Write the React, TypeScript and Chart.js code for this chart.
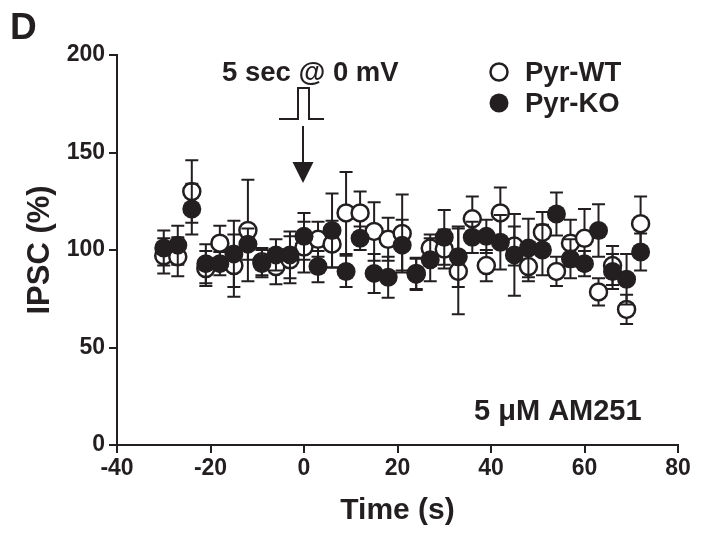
import React, { useEffect, useRef } from 'react';
import { Chart, registerables } from 'chart.js';

Chart.register(...registerables);

// ---- data ----
const timeSec = [-30, -27, -24, -21, -18, -15, -12, -9, -6, -3, 0, 3, 6, 9, 12, 15, 18, 21, 24, 27, 30, 33, 36, 39, 42, 45, 48, 51, 54, 57, 60, 63, 66, 69, 72];
const wtMean = [97, 96.5, 130, 90.5, 103.5, 92, 110, 94, 91.5, 95, 101.5, 105.5, 103, 119, 119, 109.5, 105.5, 108.5, 88, 101, 100.5, 89, 116, 92, 119, 102, 91.5, 109, 89, 103.5, 106, 78.5, 92, 69.5, 113.5];
const wtSem = [9, 10, 16, 9, 9, 16, 26, 7, 9, 12, 13, 9, 12, 21, 11, 15, 11, 20, 8, 7, 10, 22, 11.5, 8, 13, 10, 7.5, 10.5, 7.5, 12, 15, 7, 10, 7.5, 14];
const koMean = [101, 102.5, 121, 93, 93, 98, 103, 93, 97.5, 97.5, 107, 91.5, 110, 89, 106, 88, 86, 102.5, 87.5, 95, 106.5, 96.5, 106.5, 107, 104, 97.5, 101, 100, 118.5, 95.5, 93, 110, 89, 85, 99];
const koSem = [9, 10, 13, 10, 6, 17, 8, 7, 8, 12, 12, 8, 19, 8, 6, 10, 10.5, 13, 8, 11, 14, 15.5, 8, 8.5, 14, 21, 15, 13, 11, 10, 6.5, 13.5, 9, 13, 9.5];
const xTickValues = [-40, -20, 0, 20, 40, 60, 80];
const yTickValues = [0, 50, 100, 150, 200];
const seriesLabels = ['Pyr-WT', 'Pyr-KO'];

const INK = '#231f20';
const FONT = '"Liberation Sans", Arial, Helvetica, sans-serif';

const errorBarPlugin = {
  id: 'errorBars',
  beforeDatasetDraw(chart: any, args: any) {
    const ds = chart.data.datasets[args.index];
    const errs: number[] | undefined = ds.errors;
    if (!errs) return;
    const yScale = chart.scales.y;
    const ctx = chart.ctx;
    ctx.save();
    ctx.strokeStyle = INK;
    ctx.lineWidth = 2;
    args.meta.data.forEach((pt: any, i: number) => {
      const v = ds.data[i].y;
      const e = errs[i];
      const yt = yScale.getPixelForValue(v + e);
      const yb = yScale.getPixelForValue(v - e);
      const x = pt.x;
      ctx.beginPath();
      ctx.moveTo(x, yt);
      ctx.lineTo(x, yb);
      ctx.moveTo(x - 6.5, yt);
      ctx.lineTo(x + 6.5, yt);
      ctx.moveTo(x - 6.5, yb);
      ctx.lineTo(x + 6.5, yb);
      ctx.stroke();
    });
    ctx.restore();
  },
};

const annotationPlugin = {
  id: 'figureAnnotations',
  afterDraw(chart: any) {
    const ctx = chart.ctx;
    const xs = chart.scales.x;
    ctx.save();
    ctx.fillStyle = INK;
    ctx.strokeStyle = INK;
    ctx.textBaseline = 'middle';
    ctx.textAlign = 'left';

    // panel letter
    ctx.font = `bold 37px ${FONT}`;
    ctx.fillText('D', 10, 29);

    // stimulation label
    ctx.font = `bold 27.5px ${FONT}`;
    ctx.fillText('5 sec @ 0 mV', 222, 73);

    // pulse symbol
    const x0 = xs.getPixelForValue(0) - 1;
    ctx.lineWidth = 2;
    ctx.beginPath();
    ctx.moveTo(x0 - 24, 119);
    ctx.lineTo(x0 - 5, 119);
    ctx.lineTo(x0 - 5, 88);
    ctx.lineTo(x0 + 6, 88);
    ctx.lineTo(x0 + 6, 119);
    ctx.lineTo(x0 + 21, 119);
    ctx.stroke();

    // arrow
    ctx.beginPath();
    ctx.moveTo(x0, 126);
    ctx.lineTo(x0, 168);
    ctx.stroke();
    ctx.beginPath();
    ctx.moveTo(x0 - 10.5, 162);
    ctx.lineTo(x0 + 10.5, 162);
    ctx.lineTo(x0, 183);
    ctx.closePath();
    ctx.fill();

    // legend
    ctx.font = `bold 27.5px ${FONT}`;
    ctx.lineWidth = 2.5;
    ctx.beginPath();
    ctx.arc(499, 72, 8.5, 0, Math.PI * 2);
    ctx.fillStyle = '#ffffff';
    ctx.fill();
    ctx.stroke();
    ctx.fillStyle = INK;
    ctx.beginPath();
    ctx.arc(499, 103, 9.5, 0, Math.PI * 2);
    ctx.fill();
    ctx.fillText(seriesLabels[0], 525, 73);
    ctx.fillText(seriesLabels[1], 525, 104);

    // drug label
    ctx.font = `bold 29px ${FONT}`;
    ctx.fillText('5 \u03bcM AM251', 474, 412);
    ctx.restore();
  },
};

export default function App() {
  const ref = useRef<HTMLCanvasElement | null>(null);

  useEffect(() => {
    document.body.style.margin = '0';
    const canvas = ref.current;
    if (!canvas) return;
    const tickFont = { family: FONT, size: 23, weight: 'bold' as const };
    const chart = new Chart(canvas, {
      type: 'scatter',
      data: {
        datasets: [
          {
            label: seriesLabels[0],
            data: timeSec.map((t, i) => ({ x: t, y: wtMean[i] })),
            errors: wtSem,
            pointStyle: 'circle',
            pointRadius: 8.5,
            pointBorderWidth: 2.5,
            pointBackgroundColor: '#ffffff',
            pointBorderColor: INK,
            order: 2,
          } as any,
          {
            label: seriesLabels[1],
            data: timeSec.map((t, i) => ({ x: t, y: koMean[i] })),
            errors: koSem,
            pointStyle: 'circle',
            pointRadius: 9.5,
            pointBorderWidth: 0,
            pointBackgroundColor: INK,
            pointBorderColor: INK,
            order: 1,
          } as any,
        ],
      },
      options: {
        animation: false,
        responsive: false,
        maintainAspectRatio: false,
        events: [],
        layout: { padding: { top: 55, right: 26, left: 0, bottom: 0 } },
        plugins: {
          legend: { display: false },
          tooltip: { enabled: false },
        },
        scales: {
          x: {
            type: 'linear',
            min: -40,
            max: 80,
            afterBuildTicks: (s: any) => {
              s.ticks = xTickValues.map((v) => ({ value: v }));
            },
            afterFit: (s: any) => {
              s.height = 95;
            },
            ticks: { color: INK, font: tickFont, padding: 2 },
            grid: { display: true, drawOnChartArea: false, drawTicks: true, tickLength: 8, color: INK, lineWidth: 2 },
            border: { display: true, color: INK, width: 2 },
            title: {
              display: true,
              text: 'Time (s)',
              color: INK,
              font: { family: FONT, size: 30, weight: 'bold' },
              padding: { top: 0, bottom: 11 },
            },
          },
          y: {
            type: 'linear',
            min: 0,
            max: 200,
            afterBuildTicks: (s: any) => {
              s.ticks = yTickValues.map((v) => ({ value: v }));
            },
            afterFit: (s: any) => {
              s.width = 117;
            },
            ticks: { color: INK, font: tickFont, padding: 4 },
            grid: { display: true, drawOnChartArea: false, drawTicks: true, tickLength: 8, color: INK, lineWidth: 2 },
            border: { display: true, color: INK, width: 2 },
            title: {
              display: true,
              text: 'IPSC (%)',
              color: INK,
              font: { family: FONT, size: 31, weight: 'bold' },
              padding: { top: 22, bottom: 0 },
            },
          },
        },
      } as any,
      plugins: [errorBarPlugin, annotationPlugin],
    });
    return () => chart.destroy();
  }, []);

  return (
    <div style={{ width: 704, height: 540 }}>
      <canvas ref={ref} width={704} height={540} style={{ display: 'block' }} />
    </div>
  );
}
